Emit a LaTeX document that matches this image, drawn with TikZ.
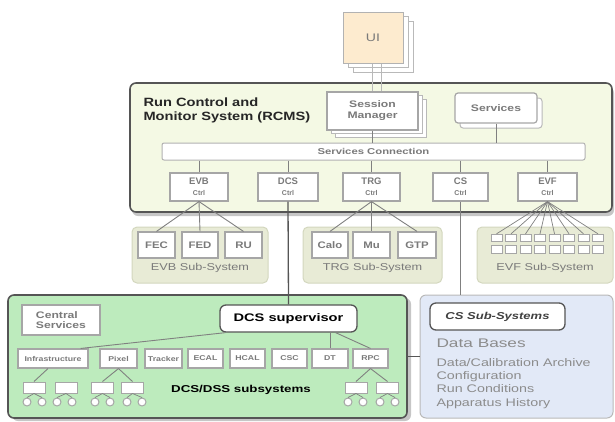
\documentclass[tikz,border=0pt]{standalone}
\usepackage{fontspec}
\setmainfont{Liberation Sans}
\usetikzlibrary{shadows}

\definecolor{rcmsfill}{HTML}{F4F9E4}
\definecolor{subfill}{HTML}{E8EBD6}
\definecolor{subline}{HTML}{D3D7BE}
\definecolor{dcsfill}{HTML}{BDEBBD}
\definecolor{csfill}{HTML}{E2E9F7}
\definecolor{uifill}{HTML}{FDEBCF}
\definecolor{frame}{HTML}{555555}
\definecolor{lbl}{HTML}{7A7A7A}
\definecolor{wirec}{HTML}{808080}

% horizontally widened text
\newcommand\wx[2][1.28]{\scalebox{#1}[1]{#2}}
\newcommand\sz[2]{\fontsize{#1}{#2}\selectfont}

\tikzset{
  panel/.style={draw=frame, line width=1.6pt, rounded corners=6pt, inner sep=0pt},
  subpanel/.style={draw=subline, line width=1pt, fill=subfill, rounded corners=5pt, inner sep=0pt},
  box/.style={draw=gray!70, line width=1.2pt, fill=white, inner sep=0pt, text=lbl, font=\bfseries},
  ctrlbox/.style={box, minimum width=#1, minimum height=28pt, align=center},
  unit/.style={box, minimum width=#1, minimum height=26pt, font=\bfseries\sz{9.5}{11}},
  det/.style={box, minimum width=#1, minimum height=19pt, line width=1.1pt, font=\bfseries\sz{7}{8}},
  leaf/.style={box, minimum width=22pt, minimum height=11pt, line width=1pt},
  dot/.style={circle, draw=gray!70, fill=white, line width=1pt, minimum size=8pt, inner sep=0pt},
  cell/.style={draw=gray!70, fill=white, line width=0.8pt, minimum width=11pt, minimum height=7.5pt, inner sep=0pt},
  wire/.style={draw=wirec, line width=0.9pt},
  thinwire/.style={draw=gray!55, line width=0.7pt},
  sublabel/.style={text=lbl, font=\sz{10}{12}},
}

\begin{document}
\begin{tikzpicture}[x=1pt, y=-1pt]
\useasboundingbox (0,0) rectangle (615,421);

% ---------------- user interface ----------------
\node[draw=gray!60, line width=1pt, fill=uifill, minimum width=60pt, minimum height=51pt,
      double copy shadow={shadow xshift=5pt, shadow yshift=-4.5pt, draw=gray!55, fill=white, line width=1pt},
      text=lbl, font=\sz{11}{13}] (ui) at (373,37.5) {\wx{UI}};

% ---------------- RCMS ----------------
\node[panel, fill=rcmsfill, minimum width=482pt, minimum height=129pt,
      drop shadow={shadow xshift=2pt, shadow yshift=-4pt, fill=gray!45, opacity=1}] (rcms) at (371,147.5) {};
\node[anchor=west, align=left, text=black!85, font=\bfseries\sz{12}{14}] (title) at (140,110)
  {\wx[1.22]{Run Control and}\\\wx[1.22]{Monitor System (RCMS)}};

\node[box, minimum width=91pt, minimum height=38pt, align=center, font=\bfseries\sz{9.5}{11},
      double copy shadow={shadow xshift=4pt, shadow yshift=-3.5pt, draw=gray!55, fill=white, line width=1pt}]
      (sm) at (372.5,111) {\wx{Session}\\\wx{Manager}};
\node[box, rounded corners=3pt, minimum width=82pt, minimum height=30pt, font=\bfseries\sz{9.5}{11},
      copy shadow={shadow xshift=5pt, shadow yshift=-5pt, draw=gray!55, fill=white, line width=1pt}]
      (sv) at (496,108) {\wx{Services}};

\node[box, draw=gray!60, line width=1pt, rounded corners=2pt, minimum width=423pt, minimum height=17pt,
      font=\bfseries\sz{8.5}{10}] (sc) at (373.5,151.5) {\wx[1.33]{Services Connection}};

\node[ctrlbox=58pt] (evb) at (199,187)   {{\sz{9.5}{10}EVB}\\[-1pt]{\sz{7}{8}Ctrl}};
\node[ctrlbox=60pt] (dcs) at (288,187)   {{\sz{9.5}{10}DCS}\\[-1pt]{\sz{7}{8}Ctrl}};
\node[ctrlbox=57pt] (trg) at (371.5,187) {{\sz{9.5}{10}TRG}\\[-1pt]{\sz{7}{8}Ctrl}};
\node[ctrlbox=55pt] (csc) at (460.5,187) {{\sz{9.5}{10}CS}\\[-1pt]{\sz{7}{8}Ctrl}};
\node[ctrlbox=59pt] (evf) at (547.5,187) {{\sz{9.5}{10}EVF}\\[-1pt]{\sz{7}{8}Ctrl}};

\draw[thinwire] ([xshift=-1pt]ui.south) -- ([xshift=-1pt]ui.south |- sm.north);
\draw[thinwire] ([xshift=8pt]ui.south) -- ([xshift=8pt]ui.south |- sm.north);
\draw[wire] (sm.south) -- (sm.south |- sc.north);
\draw[wire] (sv.south) -- (sv.south |- sc.north);
\foreach \c in {evb,dcs,trg,csc,evf}
  \draw[wire] (\c.north |- sc.south) -- (\c.north);

% ---------------- sub-systems ----------------
\node[subpanel, minimum width=136pt, minimum height=56pt] (evbsub) at (200,255) {};
\node[subpanel, minimum width=139pt, minimum height=56pt] (trgsub) at (372.5,255) {};
\node[subpanel, minimum width=136pt, minimum height=56pt] (evfsub) at (545,255) {};

\node[unit=37pt] (fec) at (156.5,245) {\wx[1.2]{FEC}};
\node[unit=36pt] (fed) at (200,245)   {\wx[1.2]{FED}};
\node[unit=37pt] (ru)  at (243.5,245) {\wx[1.2]{RU}};
\node[unit=36pt] (calo) at (330,245)  {\wx[1.2]{Calo}};
\node[unit=37pt] (mu)   at (371.5,245){\wx[1.2]{Mu}};
\node[unit=38pt] (gtp)  at (417,245)  {\wx[1.2]{GTP}};

\node[sublabel] (evblbl) at (200,268)   {\wx[1.27]{EVB Sub-System}};
\node[sublabel] (trglbl) at (372.5,268) {\wx[1.27]{TRG Sub-System}};
\node[sublabel] (evflbl) at (545,268)   {\wx[1.27]{EVF Sub-System}};

\foreach \u in {fec,fed,ru} \draw[wire] (evb.south) -- (\u.north);
\foreach \u in {calo,mu,gtp} \draw[wire] (trg.south) -- (\u.north);

\foreach \i in {1,...,8} {
  \node[cell] (fu\i) at ({496.5+14.5*(\i-1)},238) {};
  \node[cell] (fl\i) at ({496.5+14.5*(\i-1)},249.5) {};
  \draw[wire, line width=0.7pt] (evf.south) -- (fu\i.north);
}

% ---------------- DCS / DSS ----------------
\node[panel, fill=dcsfill, minimum width=399pt, minimum height=123pt,
      drop shadow={shadow xshift=4pt, shadow yshift=-3pt, fill=gray!45, opacity=1}] (dss) at (207.5,356.5) {};

\node[box, line width=1.6pt, minimum width=78pt, minimum height=30pt, align=left,
      font=\bfseries\sz{9.5}{10}] (central) at (61,320) {\wx{Central}\\\wx{Services}};
\node[box, draw=frame, line width=1.3pt, rounded corners=6pt, minimum width=137pt, minimum height=27pt,
      text=black, font=\bfseries\sz{11}{13}] (sup) at (288.5,318.5) {\wx[1.33]{DCS supervisor}};

\node[det=70pt] (infra) at (53,358.5)    {\wx[1.25]{Infrastructure}};
\node[det=37pt] (pixel) at (118.5,358.5) {\wx[1.25]{Pixel}};
\node[det=37pt] (trk)   at (163.5,358.5) {\wx[1.25]{Tracker}};
\node[det=35pt] (ecal)  at (205.5,358.5) {\wx[1.25]{ECAL}};
\node[det=35pt] (hcal)  at (247.5,358.5) {\wx[1.25]{HCAL}};
\node[det=35pt] (cscd)  at (289.5,358.5) {\wx[1.25]{CSC}};
\node[det=36pt] (dt)    at (330,358.5)   {\wx[1.25]{DT}};
\node[det=35pt] (rpc)   at (370.5,358.5) {\wx[1.25]{RPC}};

\draw[wire] (infra.north east) ++(-8pt,0) -- ([xshift=6pt]sup.south west);
\draw[wire] (dt.north |- sup.south) -- (dt.north);
\draw[wire] ([xshift=-22pt]sup.south east) -- (rpc.north);
\draw[draw=frame, line width=1.3pt] (dcs.south) -- (sup.north);

\node[leaf] (l1) at (34,387.5)    {};
\node[leaf] (l2) at (66,387.5)    {};
\node[leaf] (l3) at (102.5,387.5) {};
\node[leaf] (l4) at (132.5,387.5) {};
\node[leaf] (l5) at (356,387.5)   {};
\node[leaf] (l6) at (387.5,387.5) {};

\draw[wire] ([xshift=-5pt]infra.south) -- (l1.north);
\draw[wire] (pixel.south) -- (l3.north);
\draw[wire] (pixel.south) -- (l4.north);
\draw[wire] (rpc.south) -- (l5.north);
\draw[wire] (rpc.south) -- (l6.north);

\foreach \n/\x/\p in {d1/27/l1, d2/42/l1, d3/57/l2, d4/72/l2, d5/95/l3, d6/110/l3,
                      d7/127/l4, d8/142/l4, d9/348/l5, d10/363/l5, d11/380/l6, d12/395/l6} {
  \node[dot] (\n) at (\x,402) {};
  \draw[wire, line width=0.7pt] (\p.south) -- (\n.north);
}

\node[text=black, font=\bfseries\sz{10}{12}] (dsslbl) at (241,390) {\wx[1.33]{DCS/DSS subsystems}};

% ---------------- CS sub-systems ----------------
\node[draw=gray!55, line width=1pt, fill=csfill, rounded corners=6pt, minimum width=193pt,
      minimum height=123pt, inner sep=0pt] (cs) at (516.5,356.5) {};
\node[box, draw=frame, line width=1.3pt, rounded corners=6pt, minimum width=135pt, minimum height=27pt,
      text=black!75, font=\bfseries\itshape\sz{10}{12}] (cssub) at (497.5,316.5) {\wx[1.3]{CS Sub-Systems}};
\node[anchor=west, text=gray!90, font=\sz{12.5}{14}] (dbases) at (433,343.5) {\wx[1.38]{Data Bases}};
\node[anchor=north west, align=left, text=gray!90, font=\sz{11}{13.2}] (dblist) at (433,355)
  {\wx[1.3]{Data/Calibration Archive}\\\wx[1.3]{Configuration}\\\wx[1.3]{Run Conditions}\\\wx[1.3]{Apparatus History}};

\draw[wire] (csc.south) -- (csc.south |- cs.north);
\draw[draw=frame, line width=1.3pt] (dss.east) -- (cs.west);
\end{tikzpicture}
\end{document}
